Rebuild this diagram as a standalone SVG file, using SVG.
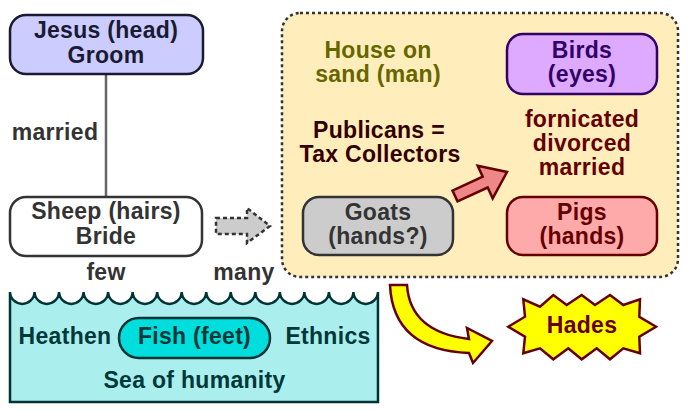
<svg xmlns="http://www.w3.org/2000/svg" width="688" height="412" viewBox="0 0 688 412">
<style>
text{font-family:"Liberation Sans",Arial,sans-serif;font-weight:bold;font-size:23px;letter-spacing:0.3px;text-anchor:middle}
.box{stroke-width:2.5}
</style>
<rect width="688" height="412" fill="#ffffff"/>
<g id="container">
<rect x="282" y="13" width="396" height="264" rx="18" fill="#ffeebb" stroke="#333333" stroke-width="2.5" stroke-dasharray="3,3"/>
</g>
<g id="connectors">
<line x1="106" y1="74" x2="106" y2="197" stroke="#666666" stroke-width="2.5"/>
<text x="55" y="140" fill="#333333">married</text>
<polygon points="216,218 247,218 247,208 270,226 247,243 247,234 216,234" fill="#cccccc" stroke="#333333" stroke-width="2.5" stroke-dasharray="4,3"/>
<polygon points="452.5,190.6 482.7,176.7 477.7,165.8 507,172 492.7,198.4 487.7,187.5 457.5,201.4" fill="#ee8888" stroke="#660000" stroke-width="2.5" stroke-linejoin="miter"/>
<path d="M390,285 Q393,350 469,353 L473,363 L492,341 L467,328 L469,339 Q410,332 407,285 Z" fill="#ffff00" stroke="#660000" stroke-width="2.5"/>
</g>
<g id="jesus">
<rect class="box" x="10" y="15" width="193" height="59" rx="16" fill="#ccccff" stroke="#1a1a33"/>
<text x="106" y="38" fill="#1a1a33">Jesus (head)</text>
<text x="106" y="63" fill="#1a1a33">Groom</text>
</g>
<g id="sheep">
<rect class="box" x="10" y="197" width="192" height="59" rx="16" fill="#ffffff" stroke="#333333"/>
<text x="106" y="219" fill="#333333">Sheep (hairs)</text>
<text x="106" y="244" fill="#333333">Bride</text>
</g>
<text x="106" y="280" fill="#333333">few</text>
<text x="244" y="280" fill="#333333">many</text>
<g id="sea">
<path d="M10,292 a12.27,12.27 0 0 0 24.53,0 a12.27,12.27 0 0 0 24.53,0 a12.27,12.27 0 0 0 24.53,0 a12.27,12.27 0 0 0 24.53,0 a12.27,12.27 0 0 0 24.53,0 a12.27,12.27 0 0 0 24.53,0 a12.27,12.27 0 0 0 24.53,0 a12.27,12.27 0 0 0 24.53,0 a12.27,12.27 0 0 0 24.53,0 a12.27,12.27 0 0 0 24.53,0 a12.27,12.27 0 0 0 24.53,0 a12.27,12.27 0 0 0 24.53,0 a12.27,12.27 0 0 0 24.53,0 a12.27,12.27 0 0 0 24.53,0 a12.27,12.27 0 0 0 24.53,0 L378,402 L10,402 Z" fill="#aaeeee" stroke="#003333" stroke-width="2.5"/>
<text x="65" y="344" fill="#003838">Heathen</text>
<text x="328" y="344" fill="#003838">Ethnics</text>
<text x="194.5" y="388" fill="#003838">Sea of humanity</text>
</g>
<g id="fish">
<rect class="box" x="119" y="318" width="151" height="40" rx="20" fill="#00dddd" stroke="#003333"/>
<text x="194.5" y="344" fill="#003838">Fish (feet)</text>
</g>
<g id="house">
<text x="378" y="58" fill="#666600">House on</text>
<text x="378" y="82" fill="#666600">sand (man)</text>
</g>
<g id="publicans">
<text x="379" y="138" fill="#330000">Publicans =</text>
<text x="380" y="162" fill="#330000">Tax Collectors</text>
</g>
<g id="birds">
<rect class="box" x="507" y="34" width="150" height="60" rx="16" fill="#ddaaff" stroke="#330066"/>
<text x="582" y="58" fill="#330066">Birds</text>
<text x="582" y="82" fill="#330066">(eyes)</text>
</g>
<g id="sins">
<text x="582" y="127" fill="#660000">fornicated</text>
<text x="582" y="151" fill="#660000">divorced</text>
<text x="582" y="175" fill="#660000">married</text>
</g>
<g id="goats">
<rect class="box" x="303" y="197" width="150" height="58" rx="16" fill="#cccccc" stroke="#333333"/>
<text x="378" y="220" fill="#333333">Goats</text>
<text x="378" y="244" fill="#333333">(hands?)</text>
</g>
<g id="pigs">
<rect class="box" x="507" y="197" width="150" height="58" rx="16" fill="#ffaaaa" stroke="#660000"/>
<text x="582" y="220" fill="#660000">Pigs</text>
<text x="582" y="244" fill="#660000">(hands)</text>
</g>
<g id="hades">
<polygon points="508.3,326.7 525,316.7 523.3,299.3 540,306.7 553.3,295 566.7,305 581.7,295 595,305 610,295 623.3,305 640,299.3 639.3,316.7 656,326.7 639.3,336.7 640,353.3 623.3,348.3 610,359.3 596.7,348.3 581.7,359.3 568.3,348.3 553.3,359.3 540,348.3 523.3,353.3 525,336.7" fill="#ffff00" stroke="#660000" stroke-width="2.5"/>
<text x="582" y="333" fill="#660000">Hades</text>
</g>
</svg>
